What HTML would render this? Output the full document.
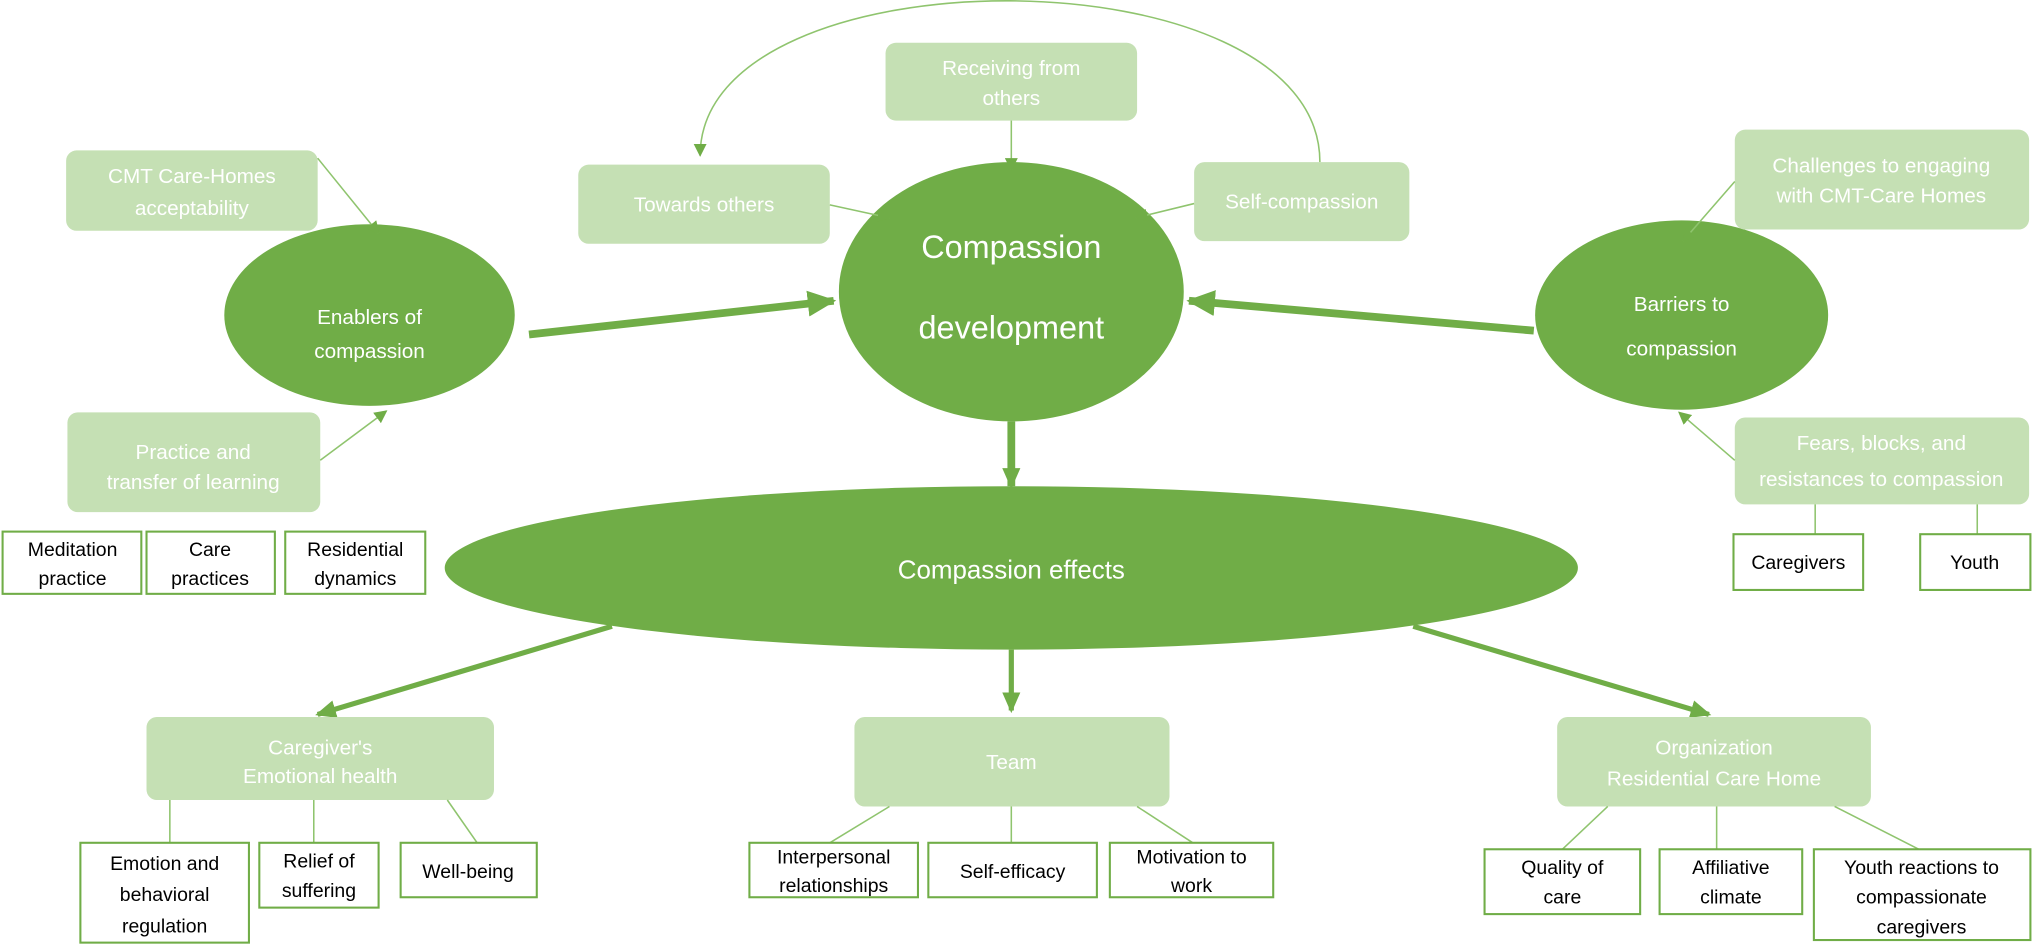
<!DOCTYPE html>
<html><head><meta charset="utf-8"><style>
html,body{margin:0;padding:0;background:#fff;}
svg{display:block;font-family:"Liberation Sans",sans-serif;}
.lb{fill:#c5e0b4;}
.wb{fill:#fff;stroke:#70ad47;stroke-width:1.6;}
.el{fill:#70ad47;}
.wt{fill:#fff;font-size:16px;text-anchor:middle;}
.bt{fill:#000;font-size:15px;text-anchor:middle;}
.ln{stroke:#8fc46e;stroke-width:1.2;fill:none;}
.th{stroke:#70ad47;stroke-width:6;fill:none;}
</style></head><body>
<svg width="2033" height="946" viewBox="0 0 1568 729.6" preserveAspectRatio="none">
<defs>
<marker id="a" markerWidth="10" markerHeight="10" refX="9" refY="5" orient="auto" markerUnits="userSpaceOnUse"><path d="M0,0 L10,5 L0,10 z" fill="#70ad47"/></marker>
<marker id="b" markerWidth="22" markerHeight="20" refX="20" refY="10" orient="auto" markerUnits="userSpaceOnUse"><path d="M0,0 L22,10 L0,20 z" fill="#70ad47"/></marker>
<marker id="c" markerWidth="16" markerHeight="14" refX="14" refY="7" orient="auto" markerUnits="userSpaceOnUse"><path d="M0,0 L16,7 L0,14 z" fill="#70ad47"/></marker>
</defs>

<ellipse class="el" cx="780" cy="225" rx="133" ry="100"/>
<ellipse class="el" cx="285" cy="243" rx="112" ry="70"/>
<ellipse class="el" cx="1297" cy="243" rx="113" ry="73"/>
<ellipse class="el" cx="780" cy="438" rx="437" ry="63"/>

<path class="ln" d="M1018,125 C1018,-40 540,-40 540,120" marker-end="url(#a)"/>

<rect class="lb" x="683" y="33" width="194" height="60" rx="8"/>
<text class="wt" x="780" y="58">Receiving from</text><text class="wt" x="780" y="81">others</text>
<rect class="lb" x="446" y="127" width="194" height="61" rx="8"/>
<text class="wt" x="543" y="163">Towards others</text>
<rect class="lb" x="921" y="125" width="166" height="61" rx="8"/>
<text class="wt" x="1004" y="161">Self-compassion</text>

<line class="ln" x1="780" y1="93" x2="780" y2="131" marker-end="url(#a)"/>
<line class="ln" x1="640" y1="158" x2="686" y2="168" marker-end="url(#a)"/>
<line class="ln" x1="921" y1="157" x2="876" y2="168" marker-end="url(#a)"/>

<text class="wt" x="780" y="199" style="font-size:25px">Compassion</text>
<text class="wt" x="780" y="261" style="font-size:25px">development</text>

<rect class="lb" x="51" y="116" width="194" height="62" rx="8"/>
<text class="wt" x="148" y="141">CMT Care-Homes</text><text class="wt" x="148" y="166">acceptability</text>
<line class="ln" x1="245" y1="122" x2="292" y2="180" marker-end="url(#a)"/>

<text class="wt" x="285" y="250">Enablers of</text><text class="wt" x="285" y="276">compassion</text>

<rect class="lb" x="52" y="318" width="195" height="77" rx="8"/>
<text class="wt" x="149" y="354">Practice and</text><text class="wt" x="149" y="377">transfer of learning</text>
<line class="ln" x1="247" y1="355" x2="298" y2="317" marker-end="url(#a)"/>

<rect class="wb" x="2" y="410" width="107" height="48"/>
<text class="bt" x="56" y="429">Meditation</text><text class="bt" x="56" y="451">practice</text>
<rect class="wb" x="113" y="410" width="99" height="48"/>
<text class="bt" x="162" y="429">Care</text><text class="bt" x="162" y="451">practices</text>
<rect class="wb" x="220" y="410" width="108" height="48"/>
<text class="bt" x="274" y="429">Residential</text><text class="bt" x="274" y="451">dynamics</text>

<line class="th" x1="408" y1="258" x2="643" y2="232" marker-end="url(#b)"/>

<text class="wt" x="1297" y="240">Barriers to</text><text class="wt" x="1297" y="274">compassion</text>
<line class="th" x1="1183" y1="255" x2="917" y2="232" marker-end="url(#b)"/>

<rect class="lb" x="1338" y="100" width="227" height="77" rx="8"/>
<text class="wt" x="1451" y="133">Challenges to engaging</text><text class="wt" x="1451" y="156">with CMT-Care Homes</text>
<line class="ln" x1="1338" y1="140" x2="1298" y2="186" marker-end="url(#a)"/>

<rect class="lb" x="1338" y="322" width="227" height="67" rx="8"/>
<text class="wt" x="1451" y="347">Fears, blocks, and</text><text class="wt" x="1451" y="375">resistances to compassion</text>
<line class="ln" x1="1338" y1="355" x2="1295" y2="318" marker-end="url(#a)"/>
<line class="ln" x1="1400" y1="389" x2="1400" y2="412"/>
<line class="ln" x1="1525" y1="389" x2="1525" y2="412"/>
<rect class="wb" x="1337" y="412" width="100" height="43"/>
<text class="bt" x="1387" y="439">Caregivers</text>
<rect class="wb" x="1481" y="412" width="85" height="43"/>
<text class="bt" x="1523" y="439">Youth</text>

<line class="th" x1="780" y1="325" x2="780" y2="375" marker-end="url(#c)"/>

<text class="wt" x="780" y="446" style="font-size:20px">Compassion effects</text>

<line class="th" style="stroke-width:4" x1="472" y1="483" x2="245" y2="551" marker-end="url(#c)"/>
<line class="th" style="stroke-width:4" x1="780" y1="501" x2="780" y2="548" marker-end="url(#c)"/>
<line class="th" style="stroke-width:4" x1="1090" y1="483" x2="1318" y2="551" marker-end="url(#c)"/>

<rect class="lb" x="113" y="553" width="268" height="64" rx="8"/>
<text class="wt" x="247" y="582">Caregiver's</text><text class="wt" x="247" y="604">Emotional health</text>
<rect class="lb" x="659" y="553" width="243" height="69" rx="8"/>
<text class="wt" x="780" y="593">Team</text>
<rect class="lb" x="1201" y="553" width="242" height="69" rx="8"/>
<text class="wt" x="1322" y="582">Organization</text><text class="wt" x="1322" y="606">Residential Care Home</text>

<line class="ln" x1="131" y1="617" x2="131" y2="650"/>
<line class="ln" x1="242" y1="617" x2="242" y2="650"/>
<line class="ln" x1="345" y1="617" x2="368" y2="650"/>
<rect class="wb" x="62" y="650" width="130" height="77"/>
<text class="bt" x="127" y="671">Emotion and</text><text class="bt" x="127" y="695">behavioral</text><text class="bt" x="127" y="719">regulation</text>
<rect class="wb" x="200" y="650" width="92" height="50"/>
<text class="bt" x="246" y="669">Relief of</text><text class="bt" x="246" y="692">suffering</text>
<rect class="wb" x="309" y="650" width="105" height="42"/>
<text class="bt" x="361" y="677">Well-being</text>

<line class="ln" x1="686" y1="622" x2="640" y2="650"/>
<line class="ln" x1="780" y1="622" x2="780" y2="650"/>
<line class="ln" x1="877" y1="622" x2="920" y2="650"/>
<rect class="wb" x="578" y="650" width="130" height="42"/>
<text class="bt" x="643" y="666">Interpersonal</text><text class="bt" x="643" y="688">relationships</text>
<rect class="wb" x="716" y="650" width="130" height="42"/>
<text class="bt" x="781" y="677">Self-efficacy</text>
<rect class="wb" x="856" y="650" width="126" height="42"/>
<text class="bt" x="919" y="666">Motivation to</text><text class="bt" x="919" y="688">work</text>

<line class="ln" x1="1240" y1="622" x2="1205" y2="655"/>
<line class="ln" x1="1324" y1="622" x2="1324" y2="655"/>
<line class="ln" x1="1415" y1="622" x2="1480" y2="655"/>
<rect class="wb" x="1145" y="655" width="120" height="50"/>
<text class="bt" x="1205" y="674">Quality of</text><text class="bt" x="1205" y="697">care</text>
<rect class="wb" x="1280" y="655" width="110" height="50"/>
<text class="bt" x="1335" y="674">Affiliative</text><text class="bt" x="1335" y="697">climate</text>
<rect class="wb" x="1399" y="655" width="167" height="70"/>
<text class="bt" x="1482" y="674">Youth reactions to</text><text class="bt" x="1482" y="697">compassionate</text><text class="bt" x="1482" y="720">caregivers</text>
</svg>
</body></html>
